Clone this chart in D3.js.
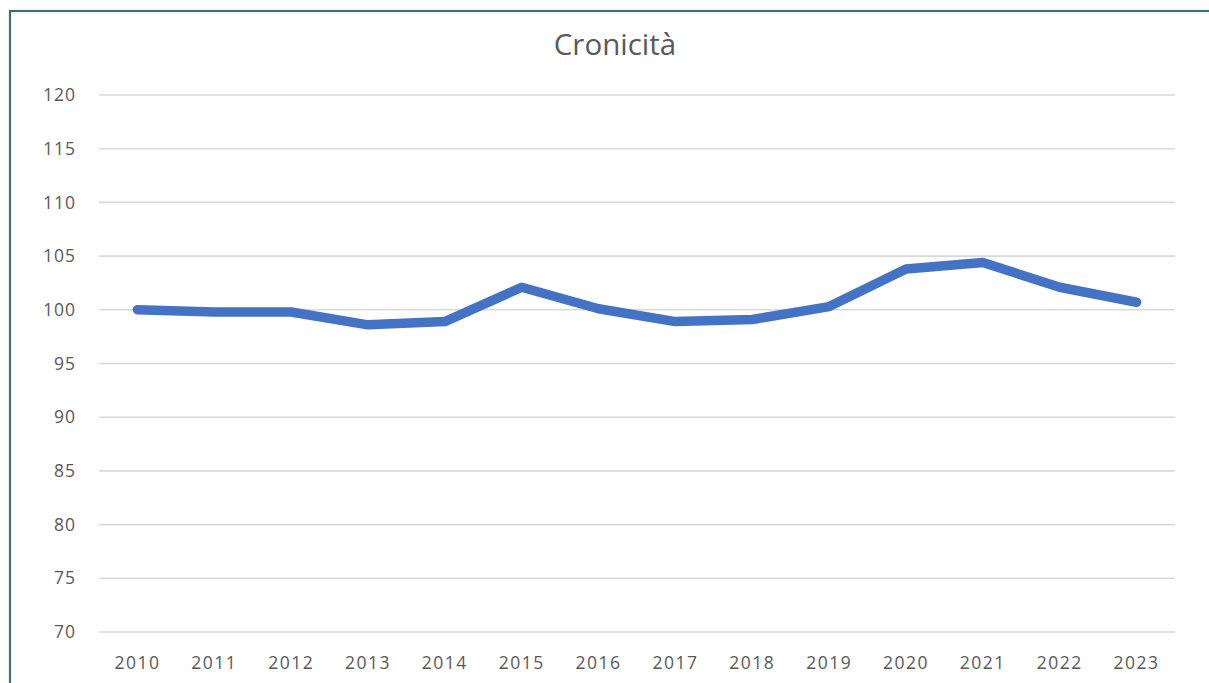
<!DOCTYPE html>
<html><head><meta charset="utf-8">
<script src="https://cdn.jsdelivr.net/npm/d3@7"></script>
<style>html,body{margin:0;padding:0;background:#fff;overflow:hidden}</style>
</head><body>
<svg id="c" width="1209" height="683"></svg>
<script>
const years = ["2010","2011","2012","2013","2014","2015","2016","2017","2018","2019","2020","2021","2022","2023"];
const values = [100.0, 99.8, 99.8, 98.6, 98.9, 102.1, 100.1, 98.9, 99.1, 100.3, 103.8, 104.4, 102.1, 100.7];
const yTicks = [70,75,80,85,90,95,100,105,110,115,120];
const title = "Cronicità";

const svg = d3.select("#c");
const font = "'Open Sans', sans-serif";
svg.append("rect").attr("x",10).attr("y",11).attr("width",1240).attr("height",720)
  .attr("fill","#fff").attr("stroke","#3f6e73").attr("stroke-width",2.2);

const x = d3.scaleBand().domain(years).range([99,1175]);
const y = d3.scaleLinear().domain([70,120]).range([632,95]);

svg.append("g").selectAll("line").data(yTicks).join("line")
  .attr("x1",99).attr("x2",1175).attr("y1",d=>y(d)).attr("y2",d=>y(d))
  .attr("stroke","#d9d9d9").attr("stroke-width",1.6);

const yAxis = svg.append("g").attr("transform","translate(84,0)")
  .call(d3.axisLeft(y).tickValues(yTicks).tickSize(0).tickPadding(8));
yAxis.select(".domain").remove();
yAxis.selectAll("text").attr("font-family",font).attr("font-size",17.5)
  .attr("letter-spacing","1px").attr("fill","#595959");

const xAxis = svg.append("g").attr("transform","translate(0,654)")
  .call(d3.axisBottom(x).tickSize(0).tickPadding(3));
xAxis.select(".domain").remove();
xAxis.selectAll("text").attr("font-family",font).attr("font-size",17.5)
  .attr("letter-spacing","1.5px").attr("fill","#595959");

const line = d3.line().x((d,i)=>x(years[i])+x.bandwidth()/2).y(d=>y(d));
svg.append("path").datum(values).attr("d",line).attr("fill","none")
  .attr("stroke","#4472c4").attr("stroke-width",9.5)
  .attr("stroke-linecap","round").attr("stroke-linejoin","round");

svg.append("text").attr("x",615).attr("y",55).attr("text-anchor","middle")
  .attr("font-family",font).attr("font-size",29.5).attr("fill","#595959").text(title);
</script>
</body></html>
